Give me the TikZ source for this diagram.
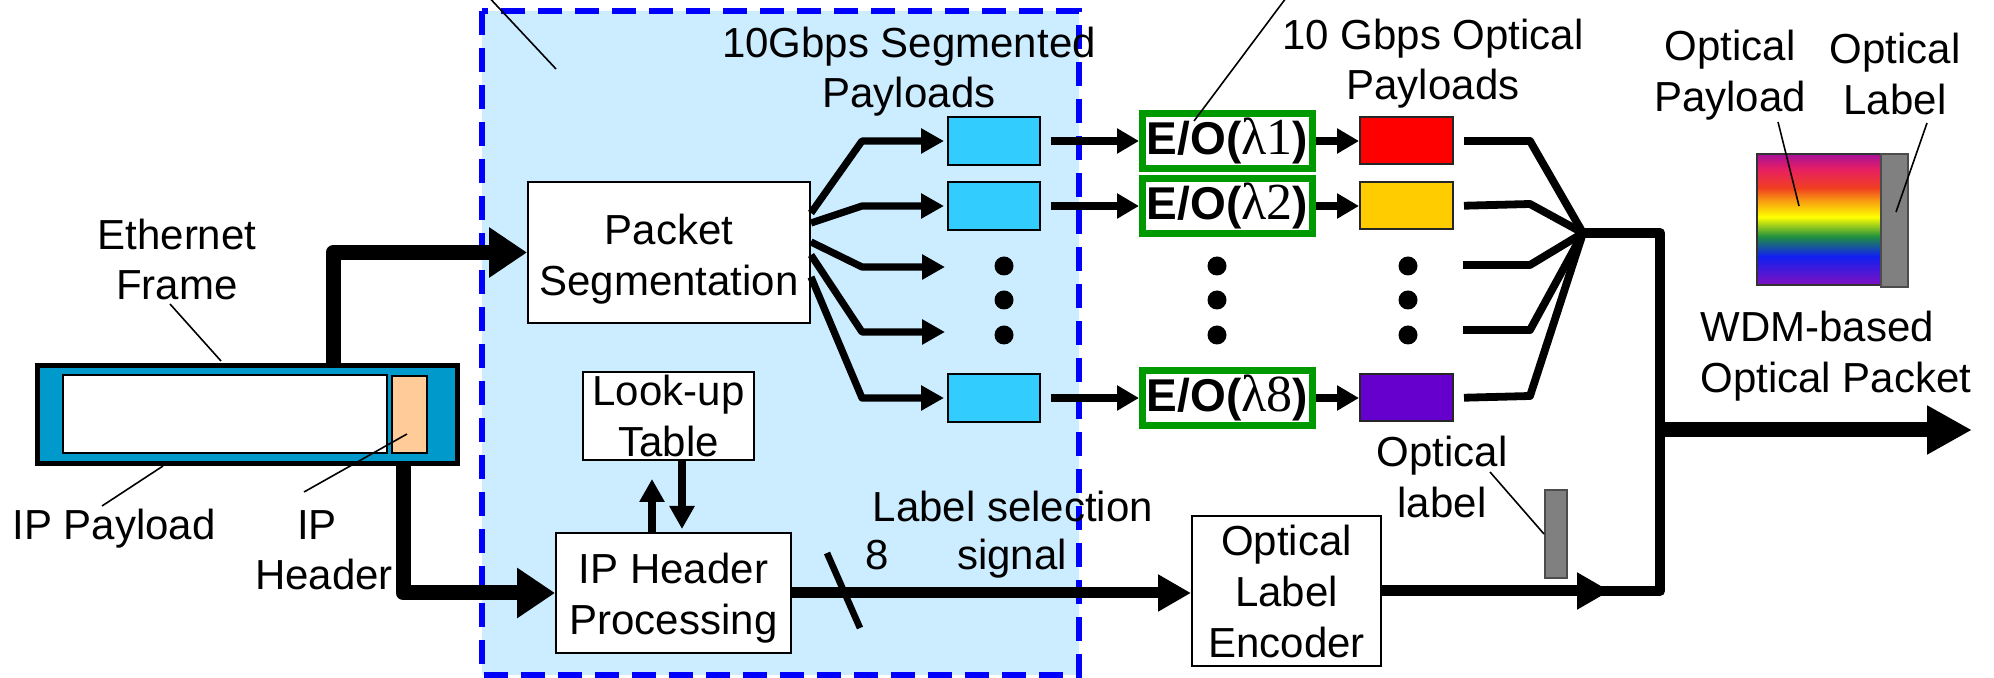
\documentclass[tikz,border=0pt]{standalone}
\usepackage{fontspec}
\setmainfont{Liberation Sans}
\newfontfamily\lamfont{Liberation Serif}
\usetikzlibrary{arrows.meta}

\definecolor{zonefill}{HTML}{CCECFF}
\definecolor{zoneline}{HTML}{0000FF}
\definecolor{framefill}{HTML}{0099CC}
\definecolor{hdrfill}{HTML}{FFCC99}
\definecolor{segfill}{HTML}{33CCFF}
\definecolor{eogreen}{HTML}{009900}
\definecolor{lamA}{HTML}{FF0000}
\definecolor{lamB}{HTML}{FFCC00}
\definecolor{lamH}{HTML}{6600CC}
\definecolor{labelgray}{HTML}{808080}
% spectrum of the WDM payload, top to bottom
\definecolor{rbA}{HTML}{A8109A}
\definecolor{rbB}{HTML}{E82060}
\definecolor{rbC}{HTML}{F04020}
\definecolor{rbD}{HTML}{F8A010}
\definecolor{rbE}{HTML}{FFFF00}
\definecolor{rbF}{HTML}{209040}
\definecolor{rbG}{HTML}{1020F0}
\definecolor{rbH}{HTML}{8010C0}
\pgfdeclareverticalshading{rainbowpk}{100bp}{color(0bp)=(rbH); color(25bp)=(rbH); color(36bp)=(rbG); color(43.5bp)=(rbF); color(51bp)=(rbE); color(57bp)=(rbD); color(62bp)=(rbC); color(69bp)=(rbB); color(75bp)=(rbA); color(100bp)=(rbA)}

\tikzset{
  lbl/.style={font=\fontsize{21}{25.5}\selectfont, inner sep=0pt, anchor=base},
  blk/.style={draw=black, line width=1pt, fill=white, inner sep=0pt, align=center, font=\fontsize{21}{25.5}\selectfont},
  eobox/.style={draw=eogreen, line width=3.5pt, fill=white, inner sep=0pt, minimum width=85pt, minimum height=27.5pt, font=\fontsize{23}{27}\selectfont},
  bufbox/.style={draw=black, line width=1pt, fill=segfill, minimum width=46pt, minimum height=24pt, inner sep=0pt},
  colbox/.style={draw=black!85, line width=1pt, minimum width=46.5pt, minimum height=23.5pt, inner sep=0pt},
  dotmark/.style={circle, fill=black, minimum size=9.5pt, inner sep=0pt},
  leader/.style={line width=0.8pt},
  bigflow/.style={line width=7.5pt, line join=round, -{Triangle[length=19pt,width=24pt]}},
  fanflow/.style={line width=3.6pt, line join=round, -{Triangle[length=11.5pt,width=12pt]}},
  eoflow/.style={line width=4.4pt, -{Triangle[length=11pt,width=12pt]}},
  lutflow/.style={line width=3.8pt, -{Triangle[length=11.5pt,width=12pt]}},
  sigflow/.style={line width=5.5pt, -{Triangle[length=16.5pt,width=17.5pt]}},
  mergeline/.style={line width=3.9pt, line join=round},
  trunk/.style={line width=5.25pt, line join=round},
}

% converter caption: bold sans "E/O(", serif wavelength, bold ")"
\newcommand{\eotext}[1]{{\bfseries E/O(}{\fontsize{26}{27}\lamfont λ#1}{\bfseries )}}

\begin{document}
\begin{tikzpicture}[x=0.5pt,y=-0.5pt]
\useasboundingbox (0,0) rectangle (1994,678);
\clip (0,0) rectangle (1994,678);

% electronic processing zone
\draw[fill=zonefill, draw=zoneline, line width=2.7pt, dash pattern=on 12pt off 6.5pt] (482,11) rectangle (1079,675);

% Ethernet frame with IP payload and IP header
\node[draw=black, line width=2.5pt, fill=framefill, minimum width=210pt, minimum height=49pt, inner sep=0pt] (eth) at (247.5,414.5) {};
\node[draw=black, line width=1pt, fill=white, minimum width=162pt, minimum height=39pt, inner sep=0pt] (ippay) at (225,414) {};
\node[draw=black, line width=1pt, fill=hdrfill, minimum width=17.5pt, minimum height=38.5pt, inner sep=0pt] (iphdr) at (409.5,414.5) {};

% processing blocks
\node[blk, minimum width=141pt, minimum height=70.5pt] (seg) at (669,252.5) {\rule{0pt}{22pt}Packet\\Segmentation};
\node[blk, minimum width=85.5pt, minimum height=44pt] (lut) at (668.5,416) {Look-up\\Table};
\node[blk, minimum width=117.5pt, minimum height=60pt] (iph) at (673.5,593) {\rule{0pt}{20pt}IP Header\\Processing};
\node[blk, minimum width=94.5pt, minimum height=75pt] (enc) at (1286.5,591) {Optical\\Label\\Encoder};

% segmented payload buffers
\node[bufbox] (p1) at (994,141) {};
\node[bufbox] (p2) at (994,206) {};
\node[bufbox] (p8) at (994,398) {};

% electro-optic converters
\node[eobox] (eo1) at (1227.5,141) {\eotext{1}};
\node[eobox] (eo2) at (1227.5,206) {\eotext{2}};
\node[eobox] (eo8) at (1227.5,398) {\eotext{8}};

% optical payloads
\node[colbox, fill=lamA] (c1) at (1406.5,141) {};
\node[colbox, fill=lamB] (c2) at (1406.5,206) {};
\node[colbox, fill=lamH] (c8) at (1406.5,398) {};

% ellipsis dots
\foreach \yy [count=\i] in {266,300,335} {
  \node[dotmark] (bd\i) at (1004,\yy) {};
  \node[dotmark] (ed\i) at (1217,\yy) {};
  \node[dotmark] (cd\i) at (1408,\yy) {};
}

% optical label and WDM packet
\node[draw=black!70, line width=1pt, fill=labelgray, minimum width=11pt, minimum height=44pt, inner sep=0pt] (olbl) at (1556,534) {};
\node[draw=black!80, line width=1pt, shade, shading=rainbowpk, minimum width=62pt, minimum height=65.5pt, inner sep=0pt] (wpay) at (1819,219.5) {};
\node[draw=black!70, line width=1pt, fill=labelgray, minimum width=13.5pt, minimum height=66.5pt, inner sep=0pt] (wlbl) at (1894.5,220.5) {};

% text labels
\node[lbl] (segpl1) at (909,58) {10Gbps Segmented};
\node[lbl] (segpl2) at (909,108) {Payloads};
\node[lbl] (optpl1) at (1433,50) {10 Gbps Optical};
\node[lbl] (optpl2) at (1433,100) {Payloads};
\node[lbl] (opay1) at (1730,61) {Optical};
\node[lbl] (opay2) at (1730,112) {Payload};
\node[lbl] (olab1) at (1895,64) {Optical};
\node[lbl] (olab2) at (1895,115) {Label};
\node[lbl, anchor=base west] (wdm1) at (1700,342) {WDM-based};
\node[lbl, anchor=base west] (wdm2) at (1700,393) {Optical Packet};
\node[lbl] (ethl1) at (177,250) {Ethernet};
\node[lbl] (ethl2) at (177,300) {Frame};
\node[lbl, anchor=base west] (payl) at (12,540) {IP Payload};
\node[lbl] (hdrl1) at (317,540) {IP};
\node[lbl] (hdrl2) at (324,590) {Header};
\node[lbl] (sel1) at (1013,522) {Label selection};
\node[lbl] (sel2) at (1012,570) {signal};
\node[lbl] (bits) at (877,570) {8};
\node[lbl] (oll1) at (1442,467) {Optical};
\node[lbl] (oll2) at (1442,518) {label};

% leader lines
\draw[leader] (556,69) -- (484,-8);
\draw[leader] (1194,121) -- (1292,-10);
\draw[leader] (170,304) -- (221,361);
\draw[leader] (102,506) -- (163,466);
\draw[leader] (304,492) -- (407,434);
\draw[leader] (1490,472) -- (olbl.west);
\draw[leader] (1778,122) -- (1799,206);
\draw[leader] (1927,123) -- (1896,212);

% frame to processing
\draw[bigflow] (eth.north -| 333,0) |- (seg.west);
\draw[bigflow] (eth.south -| 403,0) |- (iph.west);

% segmentation fan-out
\coordinate (f3) at (945,267);
\coordinate (f4) at (945,332);
\draw[fanflow, shorten >=1.5pt] ([yshift=19.75pt]seg.east) -- (862,141) -- (p1.west);
\draw[fanflow, shorten >=1.5pt] ([yshift=14.75pt]seg.east) -- (862,206) -- (p2.west);
\draw[fanflow] ([yshift=5.25pt]seg.east) -- (862,267) -- (f3);
\draw[fanflow] ([yshift=-1.25pt]seg.east) -- (862,332) -- (f4);
\draw[fanflow, shorten >=1.5pt] ([yshift=-12.25pt]seg.east) -- (862,398) -- (p8.west);

% buffers to converters to optical payloads
\foreach \r in {1,2,8} {
  \draw[eoflow, shorten <=5pt] (p\r.east) -- (eo\r.west);
  \draw[eoflow] (eo\r.east) -- (c\r.west);
}

% look-up table exchange
\draw[lutflow, shorten >=9pt] (iph.north -| 652,0) -- (lut.south -| 652,0);
\draw[lutflow, shorten >=1.5pt] (lut.south -| 682,0) -- (iph.north -| 682,0);

% label selection signal
\draw[sigflow] (iph.east) -- (iph.east -| enc.west);
\draw[line width=3.3pt] (827,553) -- (860,628);

% wavelength combiner
\coordinate (join) at (1583,233);
\coordinate (m3) at (1463,265);
\coordinate (m4) at (1463,330);
\draw[mergeline, shorten <=5pt] (c1.east) -- (1530,141) -- (join);
\draw[mergeline, shorten <=5pt] (c2.east) -- (1530,204) -- (join);
\draw[mergeline] (m3) -- (1530,265) -- (join);
\draw[mergeline] (m4) -- (1530,330) -- (join);
\draw[mergeline, shorten <=5pt] (c8.east) -- (1530,396) -- (join);

% label encoder output joins the payload path
\coordinate (lbltip) at (1610,591);
\coordinate (lblin) at (1596,591);
\coordinate (tr2) at (1660,591);
\draw[sigflow] (enc.east) -- (lbltip);
\draw[trunk] (join) -| (tr2) -- (lblin);

% WDM packet output
\coordinate (outstart) at (1657,430);
\coordinate (outend) at (1972,430);
\draw[line width=7.5pt, -{Triangle[length=22.5pt,width=23pt]}] (outstart) -- (outend);
\end{tikzpicture}
\end{document}
